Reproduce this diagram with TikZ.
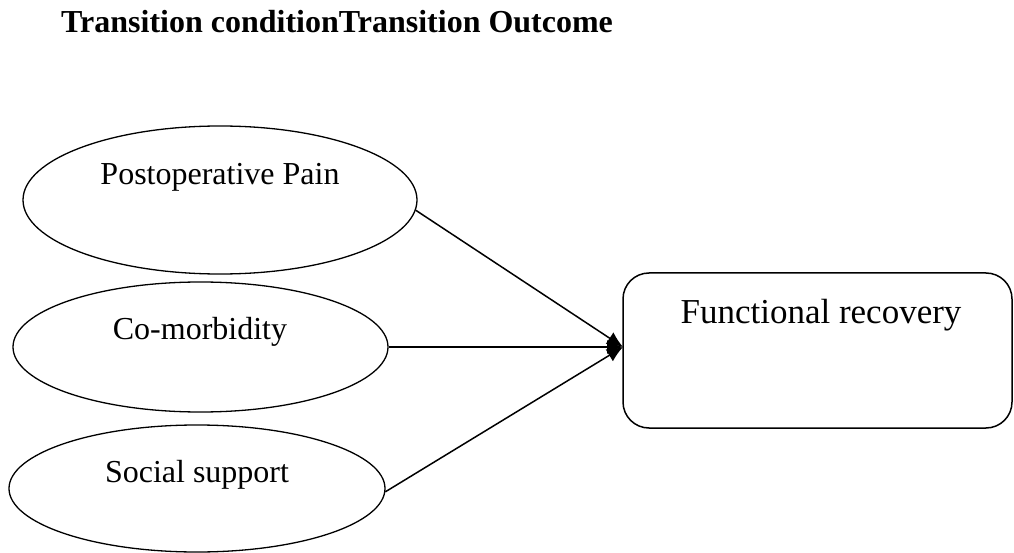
\documentclass[tikz,border=0pt]{standalone}
\usepackage{fontspec}
\setmainfont{Liberation Serif}
\usetikzlibrary{shapes.geometric,arrows.meta}
\begin{document}
\begin{tikzpicture}[x=1pt,y=-1pt,
    oval/.style={draw,ellipse,line width=1.3pt,inner sep=0pt},
    outbox/.style={draw,rectangle,rounded corners=26pt,line width=1.5pt,inner sep=0pt},
    lbl/.style={anchor=base,inner sep=0pt,font=\fontsize{32}{36}\selectfont},
    link/.style={line width=1.5pt,-{Latex[length=16pt,width=14pt]}}]
      \useasboundingbox (0,0) rectangle (1014,553);
      \node[anchor=base west,inner sep=0pt,font=\fontsize{32}{36}\selectfont\bfseries] (title) at (61,33) {Transition conditionTransition Outcome};
      % left ellipses
      \node[oval,minimum width=394pt,minimum height=148pt] (pain) at (220,200) {};
      \node[lbl] (painT) at (220,185) {Postoperative Pain};
      \node[oval,minimum width=375pt,minimum height=130pt] (como) at (200.5,347) {};
      \node[lbl] (comoT) at (200,339) {Co-morbidity};
      \node[oval,minimum width=376pt,minimum height=127pt] (soc) at (197,488.5) {};
      \node[lbl] (socT) at (197,482) {Social support};
      % outcome
      \node[outbox,minimum width=389pt,minimum height=155pt] (fr) at (817.5,350.5) {};
      \node[lbl,font=\fontsize{35}{40}\selectfont] (frT) at (821,323) {Functional recovery};
      \coordinate (hub) at (623,347);
      \draw[link] (pain.-3) -- (hub);
      \draw[link] (como.east) -- (hub);
      \draw[link] (soc.-1) -- (hub);
\end{tikzpicture}
\end{document}
